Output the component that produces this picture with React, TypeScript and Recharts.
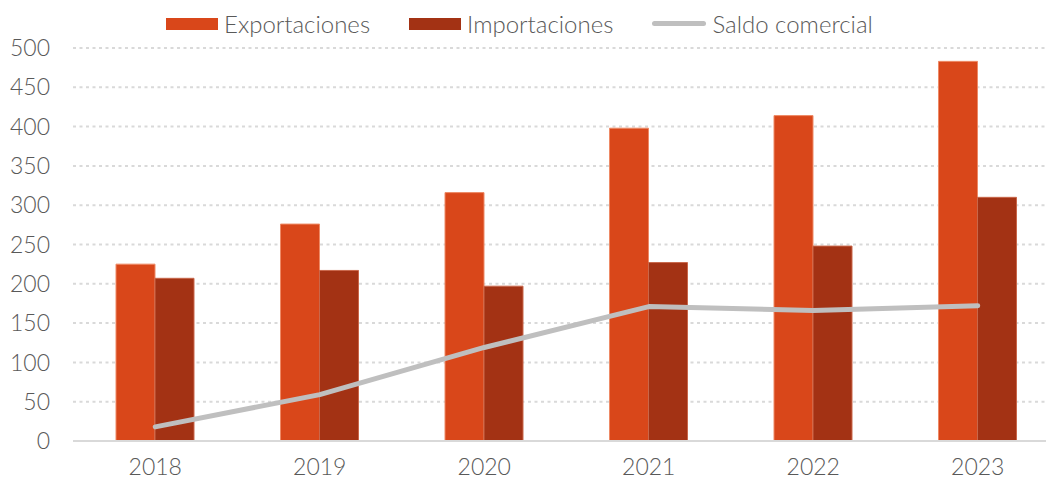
import * as React from "react";
import {
  Bar,
  CartesianGrid,
  ComposedChart,
  Line,
  XAxis,
  YAxis,
} from "recharts";

const years = ["2018", "2019", "2020", "2021", "2022", "2023"];
const exportaciones = [225, 276, 316, 398, 414, 483];
const importaciones = [207, 217, 197, 227, 248, 310];
const saldo = [18, 59, 119, 171, 166, 172];
const yTicks = [0, 50, 100, 150, 200, 250, 300, 350, 400, 450, 500];

const FONT = "'Lato', 'DejaVu Sans', sans-serif";
const TEXT = "#595959";
const EXP = "#D9471A";
const IMP = "#A33214";
const SALDO = "#BFBFBF";

const data = years.map((y, i) => ({
  year: y,
  exp: exportaciones[i],
  imp: importaciones[i],
  saldo: saldo[i],
}));

const legendItems = [
  { name: "Exportaciones", color: EXP, kind: "rect" },
  { name: "Importaciones", color: IMP, kind: "rect" },
  { name: "Saldo comercial", color: SALDO, kind: "line" },
];

const ChartLegend = () => (
  <div
    style={{
      position: "absolute",
      top: 9,
      left: 166,
      display: "flex",
      alignItems: "center",
      fontFamily: FONT,
      fontWeight: 300,
      fontSize: 24,
      color: TEXT,
      whiteSpace: "nowrap",
    }}
  >
    {legendItems.map((it) => (
      <div
        key={it.name}
        style={{ display: "flex", alignItems: "center", marginRight: 39 }}
      >
        {it.kind === "rect" ? (
          <span
            style={{
              display: "inline-block",
              width: 52,
              height: 12,
              background: it.color,
              marginRight: 6,
            }}
          />
        ) : (
          <span
            style={{
              display: "inline-block",
              width: 54,
              height: 5,
              borderRadius: 3,
              background: it.color,
              marginRight: 6,
            }}
          />
        )}
        <span>{it.name}</span>
      </div>
    ))}
  </div>
);

const tickStyle = { fill: TEXT, fontSize: 23, fontFamily: FONT, fontWeight: 300 };

export default function App() {
  return (
    <div
      style={{
        position: "absolute",
        left: 0,
        top: 0,
        width: 1046,
        height: 481,
        overflow: "hidden",
        background: "#fff",
      }}
    >
      <ChartLegend />
      <ComposedChart
        width={1060}
        height={481}
        data={data}
        margin={{ top: 48, right: 0, left: 0, bottom: 0 }}
        barCategoryGap={43}
        barGap={0}
      >
        <CartesianGrid
          vertical={false}
          stroke="#D9D9D9"
          strokeWidth={2}
          strokeDasharray="3 3.5"
        />
        <XAxis
          dataKey="year"
          height={40}
          tickLine={false}
          axisLine={{ stroke: "#D9D9D9", strokeWidth: 2 }}
          tick={tickStyle}
          tickMargin={12}
        />
        <YAxis
          width={73}
          domain={[0, 500]}
          ticks={yTicks}
          interval={0}
          axisLine={false}
          tickLine={false}
          tickSize={0}
          tickMargin={23}
          tick={tickStyle}
        />
        <Bar
          dataKey="exp"
          fill={EXP}
          stroke="#EE8A66"
          strokeWidth={1}
          isAnimationActive={false}
        />
        <Bar
          dataKey="imp"
          fill={IMP}
          stroke="#C9674A"
          strokeWidth={1}
          isAnimationActive={false}
        />
        <Line
          dataKey="saldo"
          type="linear"
          stroke={SALDO}
          strokeWidth={5}
          strokeLinecap="round"
          strokeLinejoin="round"
          dot={false}
          activeDot={false}
          isAnimationActive={false}
        />
      </ComposedChart>
    </div>
  );
}
